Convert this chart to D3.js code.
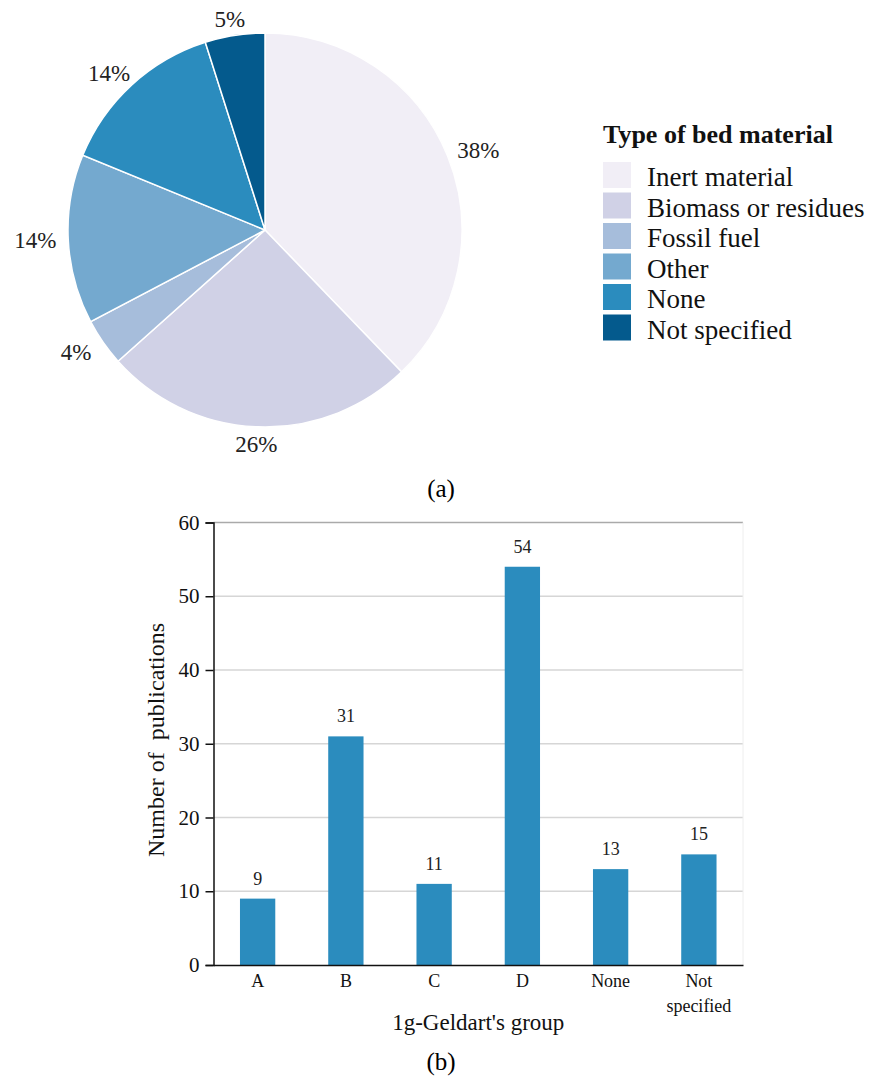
<!DOCTYPE html>
<html>
<head>
<meta charset="utf-8">
<script src="https://cdn.jsdelivr.net/npm/d3@7"></script>
<style>
  body { margin: 0; background: #fff; }
  svg { display: block; }
  text { font-family: 'Liberation Serif', 'DejaVu Serif', serif; }
</style>
</head>
<body>
<div class="chart"></div>
<script>
// (a) pie - share of each bed material, in percent
const materials = ['Inert material', 'Biomass or residues', 'Fossil fuel', 'Other', 'None', 'Not specified'];
const shares = [37.8, 25.6, 3.9, 13.9, 13.9, 4.9];
const pieColors = d3.schemePuBu[6];

// (b) bars - publications by Geldart group
const groups = ['A', 'B', 'C', 'D', 'None', 'Not specified'];
const groupLines = [['A'], ['B'], ['C'], ['D'], ['None'], ['Not', 'specified']];
const counts = [9, 31, 11, 54, 13, 15];
const yTicks = [0, 10, 20, 30, 40, 50, 60];

const w = 873;
const h = 1080;
const serif = "'Liberation Serif', 'DejaVu Serif', serif";

const svg = d3.select('.chart')
              .append('svg')
              .attr('width', w)
              .attr('height', h)
              .attr('font-family', serif);

svg.append('rect')
   .attr('width', w)
   .attr('height', h)
   .attr('fill', '#fff');

// ---- pie ----
const cx = 265;
const cy = 230;
const r = 197;

const pie = d3.pie().sort(null).value(d => d);
const arcs = pie(shares);
const total = d3.sum(shares);

const arc = d3.arc().innerRadius(0).outerRadius(r);
// unit arc, labels sit on an ellipse a bit wider than tall (text is wider than high)
const unitArc = d3.arc().innerRadius(1).outerRadius(1);
const labelRx = 230;
const labelRy = 214;

const pieG = svg.append('g')
                .attr('transform', `translate(${cx}, ${cy})`);

pieG.selectAll('path')
    .data(arcs)
    .enter()
    .append('path')
    .attr('d', arc)
    .attr('fill', (d, i) => pieColors[i])
    .attr('stroke', '#fff')
    .attr('stroke-width', 1.5);

pieG.selectAll('text')
    .data(arcs)
    .enter()
    .append('text')
    .attr('transform', d => {
      const c = unitArc.centroid(d);
      return `translate(${c[0] * labelRx}, ${c[1] * labelRy})`;
    })
    .attr('text-anchor', 'middle')
    .attr('dy', '0.35em')
    .attr('font-family', serif)
    .attr('font-size', '23px')
    .attr('fill', '#222')
    .text(d => d3.format('.0%')(d.value / total));

// legend
const legend = svg.append('g')
                  .attr('transform', 'translate(603, 0)');

legend.append('text')
      .attr('x', 0)
      .attr('y', 143)
      .attr('font-family', serif)
      .attr('font-size', '26px')
      .attr('font-weight', 'bold')
      .attr('fill', '#111')
      .text('Type of bed material');

const items = legend.selectAll('g.item')
                    .data(materials)
                    .enter()
                    .append('g')
                    .attr('class', 'item')
                    .attr('transform', (d, i) => `translate(0, ${162 + i * 30.5})`);

items.append('rect')
     .attr('width', 28)
     .attr('height', 26)
     .attr('fill', (d, i) => pieColors[i]);

items.append('text')
     .attr('x', 44)
     .attr('y', 24)
     .attr('font-family', serif)
     .attr('font-size', '27px')
     .attr('fill', '#111')
     .text(d => d);

svg.append('text')
   .attr('x', 441)
   .attr('y', 497)
   .attr('text-anchor', 'middle')
   .attr('font-family', serif)
   .attr('font-size', '25px')
   .text('(a)');

// ---- bar chart ----
const margin = { top: 522.5, right: 743, bottom: 965, left: 213.5 };

const xScale = d3.scaleBand()
                 .domain(groups)
                 .range([margin.left, margin.right])
                 .paddingInner(0.6)
                 .paddingOuter(0.3);

const yScale = d3.scaleLinear()
                 .domain([0, 60])
                 .range([margin.bottom, margin.top]);

// gridlines
svg.append('g')
   .selectAll('line')
   .data(yTicks.slice(1))
   .enter()
   .append('line')
   .attr('x1', margin.left)
   .attr('x2', margin.right)
   .attr('y1', d => yScale(d))
   .attr('y2', d => yScale(d))
   .attr('stroke', d => d === 60 ? '#aaa' : '#d6d6d6')
   .attr('stroke-width', 1.5);

svg.append('line')
   .attr('x1', margin.right)
   .attr('x2', margin.right)
   .attr('y1', margin.top)
   .attr('y2', margin.bottom)
   .attr('stroke', '#eee')
   .attr('stroke-width', 1);

svg.selectAll('rect.bar')
   .data(counts)
   .enter()
   .append('rect')
   .attr('class', 'bar')
   .attr('x', (d, i) => xScale(groups[i]))
   .attr('y', d => yScale(d))
   .attr('width', xScale.bandwidth())
   .attr('height', d => yScale(0) - yScale(d))
   .attr('fill', '#2b8cbe');

svg.selectAll('text.value')
   .data(counts)
   .enter()
   .append('text')
   .attr('class', 'value')
   .attr('x', (d, i) => xScale(groups[i]) + xScale.bandwidth() / 2)
   .attr('y', d => yScale(d) - 14)
   .attr('text-anchor', 'middle')
   .attr('font-family', serif)
   .attr('font-size', '18px')
   .attr('fill', '#222')
   .text(d => d);

const yAxis = d3.axisLeft(yScale)
                .tickValues(yTicks)
                .tickSize(8)
                .tickPadding(6);

const yG = svg.append('g')
              .attr('transform', `translate(${margin.left}, 0)`)
              .call(yAxis)
              .attr('font-family', serif);
yG.select('.domain').attr('stroke', '#111').attr('stroke-width', 1.5);
yG.selectAll('.tick line').attr('stroke', '#111').attr('stroke-width', 1.5);
yG.selectAll('.tick text')
  .attr('font-size', '21px')
  .attr('fill', '#111');

const xAxis = d3.axisBottom(xScale)
                .tickSize(0)
                .tickFormat('');

const xG = svg.append('g')
              .attr('transform', `translate(0, ${margin.bottom})`)
              .call(xAxis)
              .attr('font-family', serif);
xG.select('.domain').attr('stroke', '#111').attr('stroke-width', 1.5);

xG.selectAll('.tick')
  .each(function(d, i) {
    const t = d3.select(this).append('text')
                .attr('text-anchor', 'middle')
                .attr('font-size', '18px')
                .attr('fill', '#111');
    groupLines[i].forEach((line, j) => {
      t.append('tspan')
       .attr('x', 0)
       .attr('y', 22 + j * 25)
       .text(line);
    });
  });

svg.append('text')
   .attr('x', (margin.left + margin.right) / 2)
   .attr('y', 1030)
   .attr('text-anchor', 'middle')
   .attr('font-family', serif)
   .attr('font-size', '23px')
   .attr('fill', '#111')
   .text("1g-Geldart's group");

svg.append('text')
   .attr('transform', 'rotate(-90)')
   .attr('x', -740)
   .attr('y', 164)
   .attr('text-anchor', 'middle')
   .attr('font-family', serif)
   .attr('font-size', '24px')
   .attr('fill', '#111')
   .style('white-space', 'pre')
   .text('Number of  publications');

svg.append('text')
   .attr('x', 441)
   .attr('y', 1070)
   .attr('text-anchor', 'middle')
   .attr('font-family', serif)
   .attr('font-size', '25px')
   .text('(b)');
</script>
</body>
</html>
